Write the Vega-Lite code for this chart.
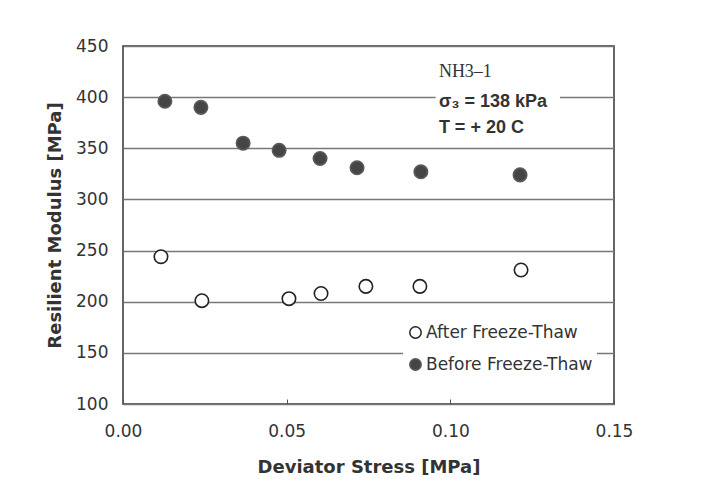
{
  "$schema": "https://vega.github.io/schema/vega-lite/v6.json",
  "autosize": {"type": "none"},
  "width": 491,
  "height": 358,
  "padding": {"left": 123, "top": 46, "right": 93, "bottom": 88},
  "background": "white",
  "config": {
    "view": {"stroke": "#333", "strokeWidth": 1.5},
    "font": "DejaVu Sans"
  },
  "layer": [
    {
      "data": {"values": [{"x1": 0.0955, "x2": 0.1335, "y1": 382, "y2": 432}]},
      "mark": {"type": "rect", "fill": "white"},
      "encoding": {
        "x": {"field": "x1", "type": "quantitative", "scale": {"domain": [0, 0.15]}},
        "x2": {"field": "x2"},
        "y": {"field": "y1", "type": "quantitative", "scale": {"domain": [100, 450]}},
        "y2": {"field": "y2"}
      }
    },
    {
      "data": {"values": [
        {"stress": 0.0128, "modulus": 396, "series": "Before Freeze-Thaw"},
        {"stress": 0.0238, "modulus": 390, "series": "Before Freeze-Thaw"},
        {"stress": 0.0367, "modulus": 355, "series": "Before Freeze-Thaw"},
        {"stress": 0.0477, "modulus": 348, "series": "Before Freeze-Thaw"},
        {"stress": 0.0602, "modulus": 340, "series": "Before Freeze-Thaw"},
        {"stress": 0.0715, "modulus": 331, "series": "Before Freeze-Thaw"},
        {"stress": 0.0910, "modulus": 327, "series": "Before Freeze-Thaw"},
        {"stress": 0.1213, "modulus": 324, "series": "Before Freeze-Thaw"},
        {"stress": 0.0116, "modulus": 244, "series": "After Freeze-Thaw"},
        {"stress": 0.0241, "modulus": 201, "series": "After Freeze-Thaw"},
        {"stress": 0.0507, "modulus": 203, "series": "After Freeze-Thaw"},
        {"stress": 0.0605, "modulus": 208, "series": "After Freeze-Thaw"},
        {"stress": 0.0742, "modulus": 215, "series": "After Freeze-Thaw"},
        {"stress": 0.0907, "modulus": 215, "series": "After Freeze-Thaw"},
        {"stress": 0.1216, "modulus": 231, "series": "After Freeze-Thaw"}
      ]},
      "mark": {"type": "point", "shape": "circle", "size": 180, "strokeWidth": 1.6, "opacity": 1},
      "encoding": {
        "x": {
          "field": "stress", "type": "quantitative",
          "scale": {"domain": [0, 0.15], "nice": false},
          "axis": {
            "title": "Deviator Stress [MPa]",
            "values": [0, 0.05, 0.1, 0.15],
            "format": ".2f",
            "grid": false,
            "domain": false,
            "labelFlush": false,
            "tickSize": -5,
            "tickColor": "#555",
            "tickWidth": 1,
            "labelFontSize": 17,
            "labelColor": "#333",
            "labelPadding": 24,
            "titleFontSize": 18,
            "titleFontWeight": "bold",
            "titleColor": "#333",
            "titlePadding": 19
          }
        },
        "y": {
          "field": "modulus", "type": "quantitative",
          "scale": {"domain": [100, 450], "nice": false, "zero": false},
          "axis": {
            "title": "Resilient Modulus [MPa]",
            "values": [100, 150, 200, 250, 300, 350, 400, 450],
            "grid": true,
            "gridColor": "#777",
            "gridWidth": 1.3,
            "domain": false,
            "ticks": false,
            "labelFlush": false,
            "labelFontSize": 17,
            "labelColor": "#333",
            "labelPadding": 15,
            "titleFontSize": 18,
            "titleFontWeight": "bold",
            "titleColor": "#333",
            "titlePadding": 11
          }
        },
        "fill": {
          "field": "series", "type": "nominal",
          "scale": {"domain": ["After Freeze-Thaw", "Before Freeze-Thaw"], "range": ["white", "#454545"]},
          "legend": {
            "title": null,
            "orient": "none",
            "legendX": 280,
            "legendY": 274,
            "fillColor": "white",
            "padding": 4,
            "symbolType": "circle",
            "symbolSize": 130,
            "symbolStrokeWidth": 1.5,
            "labelFontSize": 17,
            "labelLimit": 400,
            "labelColor": "#333",
            "labelOffset": 2,
            "rowPadding": 13
          }
        },
        "stroke": {
          "field": "series", "type": "nominal",
          "scale": {"domain": ["After Freeze-Thaw", "Before Freeze-Thaw"], "range": ["#222", "#5a5a5a"]},
          "legend": null
        }
      }
    },
    {
      "data": {"values": [{"x": 0.0965, "y": 424.5, "label": "NH3–1"}]},
      "mark": {"type": "text", "align": "left", "baseline": "middle", "font": "Liberation Serif", "fontSize": 18, "color": "#333"},
      "encoding": {
        "x": {"field": "x", "type": "quantitative"},
        "y": {"field": "y", "type": "quantitative"},
        "text": {"field": "label"}
      }
    },
    {
      "data": {"values": [
        {"x": 0.0965, "y": 395.5, "label": "σ₃ = 138 kPa"},
        {"x": 0.0965, "y": 370, "label": "T = + 20 C"}
      ]},
      "mark": {"type": "text", "align": "left", "baseline": "middle", "font": "Liberation Sans", "fontSize": 18, "fontWeight": "bold", "color": "#333"},
      "encoding": {
        "x": {"field": "x", "type": "quantitative"},
        "y": {"field": "y", "type": "quantitative"},
        "text": {"field": "label"}
      }
    }
  ]
}
